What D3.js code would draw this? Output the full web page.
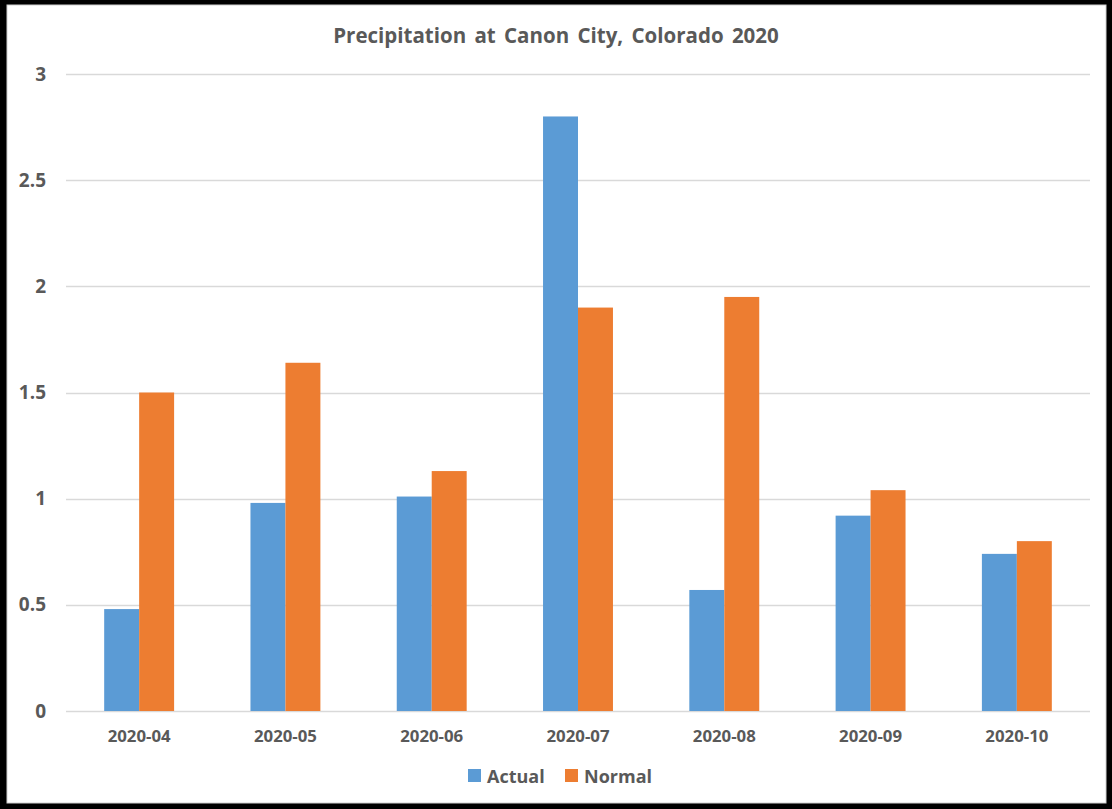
<!DOCTYPE html>
<html>
<head>
<meta charset="utf-8">
<script src="https://cdn.jsdelivr.net/npm/d3@7"></script>
<style>
  html, body { margin: 0; padding: 0; background: #000; }
  svg { display: block; }
  text { font-family: "Open Sans", "DejaVu Sans", sans-serif; font-weight: 700; fill: #595959; }
</style>
</head>
<body>
<svg id="chart" width="1112" height="809"></svg>
<script>
// Monthly precipitation (inches), Canon City, Colorado
const months = ["2020-04", "2020-05", "2020-06", "2020-07", "2020-08", "2020-09", "2020-10"];
const actual = [0.48, 0.98, 1.01, 2.80, 0.57, 0.92, 0.74];
const normal = [1.50, 1.64, 1.13, 1.90, 1.95, 1.04, 0.80];
const seriesNames = ["Actual", "Normal"];
const seriesColors = ["#5b9bd5", "#ed7d31"];
const yTicks = [0, 0.5, 1, 1.5, 2, 2.5, 3];
const yTickLabels = ["0", "0.5", "1", "1.5", "2", "2.5", "3"];
const title = "Precipitation at Canon City, Colorado 2020";

const svg = d3.select("#chart");
const W = 1112, H = 809;

// Framed white panel
svg.append("rect").attr("x", 0).attr("y", 0).attr("width", W).attr("height", H).attr("fill", "#000");
svg.append("rect").attr("x", 7).attr("y", 5).attr("width", 1099).attr("height", 798)
  .attr("fill", "#fff").attr("stroke", "#d0d0d0").attr("stroke-width", 1);

const plot = { left: 66, right: 1090, top: 74, bottom: 711 };

const x = d3.scaleBand()
  .domain(months)
  .range([plot.left, plot.right])
  .paddingInner(0.522)
  .paddingOuter(0.261);

const xs = d3.scaleBand()
  .domain(seriesNames)
  .range([0, x.bandwidth()])
  .padding(0);

const y = d3.scaleLinear().domain([0, 3]).range([plot.bottom, plot.top]);

// Title
svg.append("text")
  .attr("x", 556).attr("y", 43)
  .attr("text-anchor", "middle")
  .style("font-size", "20.5px")
  .style("word-spacing", "3px")
  .text(title);

// Horizontal gridlines
svg.append("g")
  .selectAll("line")
  .data(yTicks)
  .join("line")
  .attr("x1", plot.left).attr("x2", plot.right)
  .attr("y1", d => Math.round(y(d)) + 0.5).attr("y2", d => Math.round(y(d)) + 0.5)
  .attr("stroke", "#d9d9d9").attr("stroke-width", 1.3);

// Y axis labels
const yAxis = d3.axisLeft(y)
  .tickValues(yTicks)
  .tickFormat((d, i) => yTickLabels[i])
  .tickSize(0)
  .tickPadding(20);
const yg = svg.append("g").attr("transform", `translate(${plot.left},0)`).call(yAxis);
yg.select(".domain").remove();
yg.selectAll("text").style("font-size", "19px").attr("fill", "#595959").style("font-family", null);

// X axis labels
const xAxis = d3.axisBottom(x).tickSize(0).tickPadding(19);
const xg = svg.append("g").attr("transform", `translate(0,${plot.bottom})`).call(xAxis);
xg.select(".domain").remove();
xg.selectAll("text").style("font-size", "16.8px").attr("fill", "#595959").style("font-family", null);

// Bars
const rows = months.map((m, i) => ({ month: m, values: [actual[i], normal[i]] }));
const groups = svg.append("g")
  .selectAll("g")
  .data(rows)
  .join("g")
  .attr("transform", d => `translate(${x(d.month)},0)`);

groups.selectAll("rect")
  .data(d => d.values.map((v, j) => ({ key: seriesNames[j], value: v, color: seriesColors[j] })))
  .join("rect")
  .attr("x", d => xs(d.key))
  .attr("width", xs.bandwidth())
  .attr("y", d => y(d.value))
  .attr("height", d => y(0) - y(d.value))
  .attr("fill", d => d.color);

// Legend
const legendItems = [
  { name: seriesNames[0], color: seriesColors[0], x: 468 },
  { name: seriesNames[1], color: seriesColors[1], x: 565 }
];
const lg = svg.append("g").selectAll("g").data(legendItems).join("g")
  .attr("transform", d => `translate(${d.x},769)`);
lg.append("rect").attr("width", 13).attr("height", 13).attr("fill", d => d.color);
lg.append("text").attr("x", 19).attr("y", 14)
  .style("font-size", "18px")
  .text(d => d.name);
</script>
</body>
</html>
